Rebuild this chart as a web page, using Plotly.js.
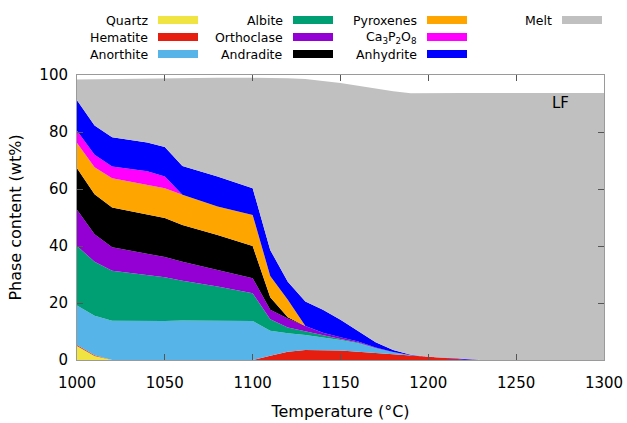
<!DOCTYPE html>
<html>
<head>
<meta charset="utf-8">
<script src="https://cdn.plot.ly/plotly-3.0.1.min.js"></script>
<style>
  html, body { margin: 0; padding: 0; background: #fff; }
  #chart { width: 627px; height: 423px; }
</style>
</head>
<body>
<div id="chart"></div>
<script>
// Temperature grid (°C)
const temperature = [1000, 1010, 1020, 1040, 1050, 1060, 1080, 1100, 1110, 1120, 1130, 1140,
                     1150, 1160, 1170, 1180, 1190, 1200, 1210, 1220, 1230, 1250, 1300];

// Phase contents (wt%), stacked from the bottom up
const quartz     = [4.9, 1.4, 0, 0, 0, 0, 0, 0, 0, 0, 0, 0, 0, 0, 0, 0, 0, 0, 0, 0, 0, 0, 0];
const hematite   = [0.4, 0.3, 0, 0, 0, 0, 0, 0, 1.5, 2.9, 3.5, 3.5, 3.3, 2.9, 2.5, 2.1, 1.5, 1.1, 0.7, 0.2, 0, 0, 0];
const anorthite  = [13.8, 13.8, 13.8, 13.7, 13.7, 13.9, 13.9, 13.7, 8.8, 6.5, 5.3, 4.5, 3.7, 3.0, 1.6, 0.6, 0.2, 0, 0, 0, 0, 0, 0];
const albite     = [20.9, 19.0, 17.5, 16.2, 15.3, 13.9, 11.9, 9.7, 4.0, 2.0, 1.2, 0.8, 0.4, 0.2, 0.1, 0, 0, 0, 0, 0, 0, 0, 0];
const orthoclase = [12.7, 9.6, 8.3, 7.3, 7.1, 6.7, 5.8, 5.3, 3.3, 3.2, 1.9, 0.8, 0.6, 0.4, 0.2, 0.1, 0, 0, 0, 0, 0, 0, 0];
const andradite  = [14.6, 14.1, 13.9, 13.7, 13.7, 12.9, 12.3, 11.3, 4.4, 0.4, 0, 0, 0, 0, 0, 0, 0, 0, 0, 0, 0, 0, 0];
const pyroxenes  = [8.8, 9.4, 10.3, 10.6, 10.5, 10.6, 10.0, 10.9, 7.5, 6.1, 0, 0, 0, 0, 0, 0, 0, 0, 0, 0, 0, 0, 0];
const ca3p2o8    = [4.3, 4.4, 4.1, 4.7, 4.1, 0, 0, 0, 0, 0, 0, 0, 0, 0, 0, 0, 0, 0, 0, 0, 0, 0, 0];
const anhydrite  = [10.7, 10.3, 10.3, 10.1, 10.3, 10.1, 10.5, 9.4, 9.1, 6.4, 8.6, 8.0, 6.1, 3.5, 1.8, 0.7, 0.1, 0, 0, 0, 0, 0, 0];
const melt       = [7.3, 16.2, 20.4, 22.5, 24.2, 30.9, 34.6, 38.7, 60.4, 71.4, 78.1, 80.4, 83.1, 86.2, 89.0, 90.8,
                    91.8, 92.6, 93.0, 93.5, 93.7, 93.7, 93.7];

const phaseNames = ['Quartz', 'Hematite', 'Anorthite', 'Albite', 'Orthoclase', 'Andradite',
                    'Pyroxenes', 'Ca<sub>3</sub>P<sub>2</sub>O<sub>8</sub>', 'Anhydrite', 'Melt'];
const phaseValues = [quartz, hematite, anorthite, albite, orthoclase, andradite,
                     pyroxenes, ca3p2o8, anhydrite, melt];
const phaseColors = ['#f0e442', '#e51e10', '#56b4e9', '#009e73', '#9400d3', '#000000',
                     '#ffa500', '#ff00ff', '#0000ff', '#c0c0c0'];

const xTicks = [1000, 1050, 1100, 1150, 1200, 1250, 1300];
const yTicks = [0, 20, 40, 60, 80, 100];

const FONT = 'DejaVu Sans, sans-serif';

const traces = phaseValues.map((vals, i) => ({
  type: 'scatter',
  mode: 'lines',
  x: temperature,
  y: vals,
  name: phaseNames[i],
  stackgroup: 'phases',
  line: { width: 0, color: phaseColors[i] },
  fillcolor: phaseColors[i],
  hoverinfo: 'skip',
  showlegend: false
}));

// Plot box in pixels
const W = 627, H = 423;
const M = { l: 77, r: 23, t: 75, b: 63 };
const plotW = W - M.l - M.r, plotH = H - M.t - M.b;
const px2x = px => (px - M.l) / plotW;
const py2y = py => (H - M.b - py) / plotH;

// Key: four columns of three rows, label right-aligned in front of a colour bar
const shapes = [];
const annotations = [];
const colRight = [150, 285, 419, 554];
const rowY = [20, 37, 54];
phaseNames.forEach((name, i) => {
  const col = Math.floor(i / 3), row = i % 3;
  const tx = colRight[col], ty = rowY[row];
  annotations.push({
    xref: 'paper', yref: 'paper', x: px2x(tx), y: py2y(ty),
    xanchor: 'right', yanchor: 'middle', showarrow: false,
    text: name, font: { family: FONT, size: 12.5, color: '#000' }
  });
  shapes.push({
    type: 'rect', xref: 'paper', yref: 'paper',
    x0: px2x(tx + 8), x1: px2x(tx + 48), y0: py2y(ty - 4), y1: py2y(ty + 4),
    fillcolor: phaseColors[i], line: { width: 0 }
  });
});

annotations.push({
  xref: 'paper', yref: 'paper', x: px2x(560), y: py2y(103),
  xanchor: 'center', yanchor: 'middle', showarrow: false,
  text: 'LF', font: { family: FONT, size: 15, color: '#000' }
});

const axisCommon = {
  showline: true, mirror: 'ticks', linecolor: '#9a9a9a', linewidth: 1,
  ticks: 'inside', ticklen: 6, tickcolor: '#555', tickwidth: 1,
  showgrid: false, zeroline: false,
  tickfont: { family: FONT, size: 15, color: '#000' }
};

const layout = {
  width: W, height: H,
  margin: M,
  paper_bgcolor: '#fff', plot_bgcolor: '#fff',
  showlegend: false,
  xaxis: Object.assign({}, axisCommon, {
    range: [1000, 1300], tickvals: xTicks, ticktext: xTicks.map(String),
    ticklabelstandoff: 9,
    title: { text: 'Temperature (°C)', font: { family: FONT, size: 16, color: '#000' }, standoff: 14 }
  }),
  yaxis: Object.assign({}, axisCommon, {
    range: [0, 100], tickvals: yTicks, ticktext: yTicks.map(String),
    ticklabelstandoff: 5,
    title: { text: 'Phase content (wt%)', font: { family: FONT, size: 16, color: '#000' }, standoff: 13 }
  }),
  shapes: shapes,
  annotations: annotations
};

Plotly.newPlot('chart', traces, layout, { staticPlot: true, displayModeBar: false });
</script>
</body>
</html>
